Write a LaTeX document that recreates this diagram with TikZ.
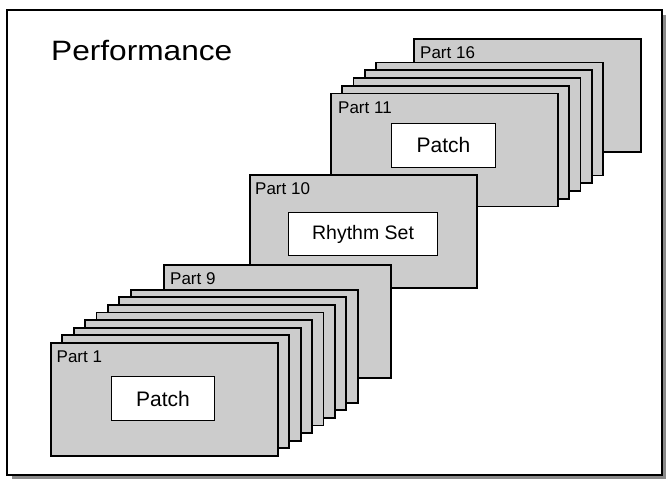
\documentclass[tikz,border=0pt]{standalone}
\usepackage{fontspec}
\setmainfont{Liberation Sans}
\usetikzlibrary{positioning}
\definecolor{cardgray}{HTML}{CCCCCC}
\definecolor{shadowgray}{HTML}{8A8A8A}
\tikzset{
  card/.style={draw=black,fill=cardgray,line width=1.7pt,anchor=north west,
    minimum width=227pt,minimum height=113pt,inner sep=0pt},
  card label/.style={anchor=base west,inner sep=0pt,
    font=\fontsize{17}{20}\selectfont},
  voice box/.style={draw=black,fill=white,line width=1.1pt,inner sep=0pt,
    anchor=north west,font=\fontsize{21}{24}\selectfont},
  frame/.style={draw=black,fill=white,line width=2.4pt}
}

\begin{document}
\begin{tikzpicture}[x=1pt,y=-1pt]
  \useasboundingbox (0,0) rectangle (666,479);
  \fill[shadowgray] (12,15) rectangle (665.5,478.5);
  \draw[frame] (7,10) rectangle (662,475);
  \node[anchor=base west,inner sep=0pt,font=\fontsize{28}{32}\selectfont]
    (title) at (51,60.5) {\scalebox{1.13}[1]{Performance}};
  % parts 11 to 16
  \node[card] (p16) at (413,38) {};
  \node[card label] at ([xshift=7pt,yshift=-20pt]p16.north west) {Part 16};
  \foreach \k in {4,3,...,1}
    \node[card] (p1\k) at ({330+11.3*\k},{92.5-7.7*\k}) {};
  \node[card] (p11) at (330,92.5) {};
  \node[card label] at ([xshift=8pt,yshift=-20.5pt]p11.north west) {Part 11};
  \node[voice box,minimum width=104pt,minimum height=44pt,
    below right=30pt and 61pt of p11.north west] (patchB) {Patch};
  % part 10
  \node[card] (p10) at (249,174) {};
  \node[card label] at ([xshift=6pt,yshift=-20.3pt]p10.north west) {Part 10};
  \node[voice box,minimum width=149pt,minimum height=43pt,
    below right=38pt and 39pt of p10.north west,
    font=\fontsize{19.5}{23}\selectfont] (rhythm) {Rhythm Set};
  % parts 1 to 9
  \node[card] (p9) at (163,264) {};
  \node[card label] at ([xshift=7pt,yshift=-20.5pt]p9.north west) {Part 9};
  \foreach \k in {7,6,...,1}
    \node[card] (pp\k) at ({50+11.4*\k},{342-7.6*\k}) {};
  \node[card] (p1) at (50,342) {};
  \node[card label] at ([xshift=6.5pt,yshift=-20.7pt]p1.north west) {Part 1};
  \node[voice box,minimum width=103pt,minimum height=44pt,
    below right=34pt and 61pt of p1.north west] (patchA) {Patch};
\end{tikzpicture}
\end{document}
